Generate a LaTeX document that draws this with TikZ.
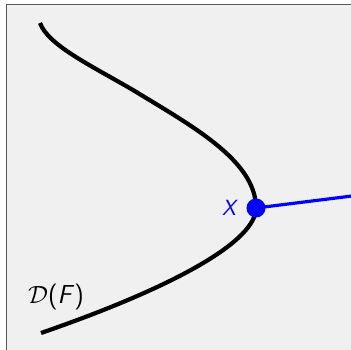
\documentclass[tikz,border=0pt]{standalone}
\begin{document}
\begin{tikzpicture}[x=1pt,y=-1pt,
  curve/.style={line width=4.2pt,black},
  ray/.style={line width=3.2pt,blue},
  pt/.style={circle,fill=blue,inner sep=0pt,minimum size=19pt},
  lbl/.style={font=\sffamily\fontsize{26}{26}\selectfont}]
\useasboundingbox (0,0) rectangle (351,350);
\fill[white] (0,0) rectangle (351,350);
\filldraw[fill={rgb,255:red,240;green,240;blue,240},draw={rgb,255:red,90;green,90;blue,90},line width=1pt] (6,5) rectangle (360,360);
\draw[curve] (40,23) .. controls (48,45) and (90,65) .. (133,90)
  .. controls (190,125) and (256,160) .. (256,208)
  .. controls (256,240) and (180,285) .. (41,333);
\node[pt] (x) at (256,208) {};
\coordinate (e) at (352,196);
\draw[ray] (x.center) -- (e);
\node[lbl,text=blue,font=\sffamily\itshape\fontsize{22}{22}\selectfont] (xl) at (229,208) {X};
\node[lbl] (dl) at (56,297) {$\mathcal{D}$(\textit{F})};
\end{tikzpicture}
\end{document}
